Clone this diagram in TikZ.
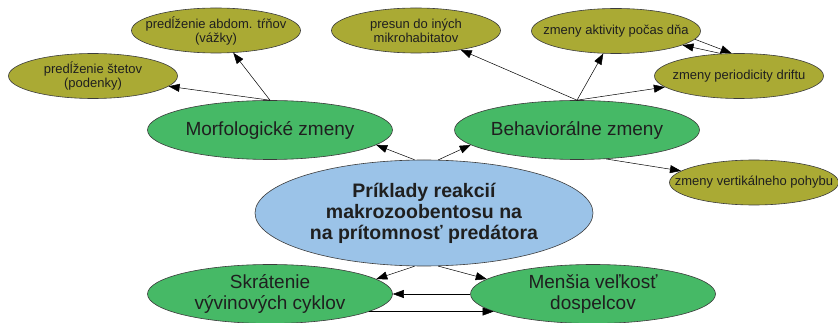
\documentclass[tikz,border=0pt]{standalone}
\usepackage{fontspec}
\setmainfont{Liberation Sans}
\usetikzlibrary{shapes.geometric,arrows.meta}
\definecolor{zelena}{RGB}{70,185,102}
\definecolor{olivova}{RGB}{170,170,52}
\definecolor{modra}{RGB}{155,195,232}
\definecolor{obrys}{RGB}{60,60,60}

\begin{document}
\begin{tikzpicture}[x=1pt,y=-1pt,
  bublina/.style={ellipse,draw=obrys,line width=0.6pt,inner xsep=-40pt,inner ysep=-8pt,align=center,text=black!88},
  hlavny/.style={bublina,fill=modra,minimum width=338pt,minimum height=106pt,font=\fontsize{19.5}{21}\selectfont\bfseries},
  velky/.style={bublina,fill=zelena,minimum width=245pt,minimum height=59pt,font=\fontsize{19}{21}\selectfont},
  maly/.style={bublina,fill=olivova,minimum width=169pt,minimum height=45pt,font=\fontsize{13}{14}\selectfont},
  sipka/.style={-{Triangle[length=11pt,width=8pt]},line width=0.5pt}]
  \useasboundingbox (0,0) rectangle (838,323);
  \node[hlavny] (reakcie) at (424,213) {Príklady reakcií\\makrozoobentosu na\\na prítomnosť predátora};
  \node[velky] (morf) at (270,130) {Morfologické zmeny};
  \node[velky] (behav) at (577,130) {Behaviorálne zmeny};
  \node[velky] (skrat) at (270,294) {Skrátenie\\vývinových cyklov};
  \node[velky] (mensia) at (593,294) {Menšia veľkosť\\dospelcov};
  \node[maly] (abdom) at (216,30.5) {predĺženie abdom. tŕňov\\(vážky)};
  \node[maly] (stetov) at (93,76) {predĺženie štetov\\(podenky)};
  \node[maly] (presun) at (416,30.5) {presun do iných\\mikrohabitatov};
  \node[maly] (aktiv) at (616,31) {zmeny aktivity počas dňa};
  \node[maly] (period) at (739,76) {zmeny periodicity driftu};
  \node[maly] (vert) at (754,182.5) {zmeny vertikálneho pohybu};
  \draw[sipka] (reakcie.100) -- (morf.-8);
  \draw[sipka] (reakcie.75) -- (behav.-172);
  \draw[sipka] (reakcie.-100) -- (skrat.8);
  \draw[sipka] (reakcie.-75) -- (mensia.172);
  \draw[sipka] (mensia.west) -- (skrat.east);
  \draw[sipka] (skrat.-10) -- (mensia.-170);
  \draw[sipka] (morf.north) -- (stetov);
  \draw[sipka] (morf.north) -- (abdom);
  \draw[sipka] (behav.north) -- (presun);
  \draw[sipka] (behav.north) -- (aktiv);
  \draw[sipka] (behav.north) -- (period);
  \draw[sipka] (behav.-45) -- (vert);
  \draw[sipka] (aktiv.-6) -- (period.108);
  \draw[sipka] (period.128) -- (aktiv.-12);
\end{tikzpicture}
\end{document}
